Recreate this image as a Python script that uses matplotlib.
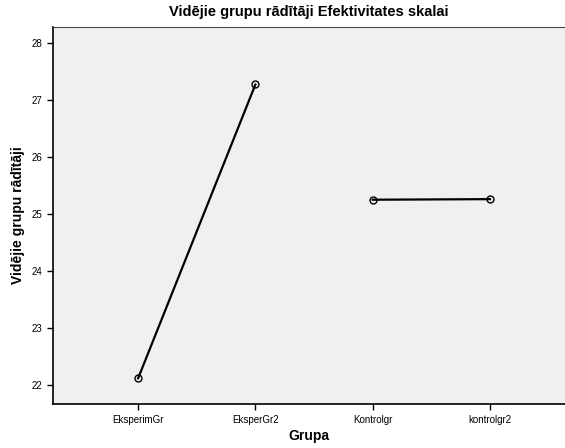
import matplotlib
matplotlib.use("Agg")
import matplotlib.pyplot as plt

plt.rcParams['font.family'] = ['Liberation Sans', 'DejaVu Sans']

groups = ['EksperimGr', 'EksperGr2', 'Kontrolgr', 'kontrolgr2']
means = [22.12, 27.27, 25.25, 25.26]
# the chart joins the two experimental groups and the two control groups separately
segments = [[0, 1], [2, 3]]

fig = plt.figure(figsize=(5.65, 4.48), dpi=100)
ax = fig.add_axes([0.094, 0.098, 0.906, 0.842])
ax.set_facecolor('#f0f0f0')

for seg in segments:
    xs = seg
    ys = [means[i] for i in seg]
    ax.plot(xs, ys, color='black', lw=1.6, marker='o', markersize=5,
            markerfacecolor='none', markeredgecolor='black', markeredgewidth=1.0)

ax.set_xlim(-0.725, 3.64)
ax.set_ylim(21.667, 28.28)
ax.set_xticks(range(len(groups)))
ax.set_xticklabels(groups, fontsize=7)
ax.set_yticks([22, 23, 24, 25, 26, 27, 28])
ax.tick_params(axis='both', labelsize=7, length=4, width=1, color='black')

ax.spines['right'].set_visible(False)
ax.spines['top'].set_color('#444444')
ax.spines['left'].set_linewidth(1.2)
ax.spines['bottom'].set_linewidth(1.2)

ax.set_title('Vidējie grupu rādītāji Efektivitates skalai', fontsize=10.5,
             fontweight='bold', pad=8)
ax.set_xlabel('Grupa', fontsize=10, fontweight='bold', labelpad=3)
ax.set_ylabel('Vidējie grupu rādītāji', fontsize=10, fontweight='bold', labelpad=12)
ax.yaxis.set_label_coords(-0.055, 0.5)

fig.savefig('out.png', dpi=100)
